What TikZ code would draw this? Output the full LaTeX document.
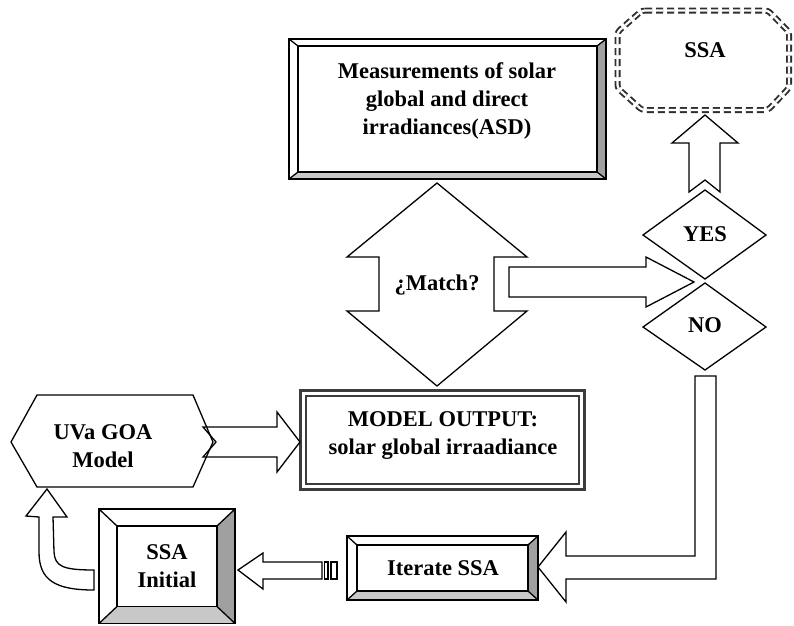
\documentclass[tikz,border=0pt]{standalone}
\usepackage{fontspec}
\setmainfont{Liberation Serif}
\definecolor{bevdark}{HTML}{A0A0A0}
\definecolor{bevlight}{HTML}{C8C8C8}
\definecolor{frame}{HTML}{3C3C3C}
\definecolor{dashframe}{HTML}{2E2E2E}
% bevelled box: x1,y1,x2,y2, side bevel, top/bottom bevel
\newcommand{\bevelbox}[6]{%
  \fill[white] (#1,#2) rectangle (#3,#4);
  \fill[bevdark] (#3,#2) -- (#3,#4) -- ({#3-#5},{#4-#6}) -- ({#3-#5},{#2+#6}) -- cycle;
  \fill[bevlight] (#1,#4) -- (#3,#4) -- ({#3-#5},{#4-#6}) -- ({#1+#5},{#4-#6}) -- cycle;
  \draw[outline] (#1,#2) rectangle (#3,#4);
  \draw[outline] ({#1+#5},{#2+#6}) rectangle ({#3-#5},{#4-#6});
  \draw[outline] (#1,#2) -- ({#1+#5},{#2+#6});
  \draw[outline] (#3,#2) -- ({#3-#5},{#2+#6});
  \draw[outline] (#1,#4) -- ({#1+#5},{#4-#6});
  \draw[outline] (#3,#4) -- ({#3-#5},{#4-#6});
}
\begin{document}
\begin{tikzpicture}[x=1pt,y=-1pt,
  outline/.style={draw=black,line width=1.3pt,line join=miter},
  blockarrow/.style={outline,fill=white},
  label/.style={font=\fontsize{22.5}{28}\selectfont\bfseries,align=center,inner sep=0pt}]
\useasboundingbox (0,0) rectangle (794,625);

% measurement box
\bevelbox{289}{39}{606}{179}{9}{7}
\node[label] (meas) at (447,101) {Measurements of solar\\global and direct\\irradiances(ASD)};

% final result
\draw[draw=dashframe,double=white,double distance=2.2pt,line width=1.9pt,
      dash pattern=on 7pt off 4pt,rounded corners=3pt]
  (642,10.5) -- (768,10.5) -- (789,32) -- (789,88) -- (768,110) -- (642,110)
  -- (617.5,88) -- (617.5,32) -- cycle;
\node[label] (ssa) at (705,50) {SSA};

% comparison arrow (double headed)
\draw[blockarrow] (437,183) -- (527,257) -- (494,257) -- (494,311) -- (527,311)
  -- (437,386) -- (347,311) -- (379,311) -- (379,257) -- (347,257) -- cycle;
\node[label] (match) at (437,285) {¿Match?};

% arrow to decision
\draw[blockarrow] (509,267) -- (646,267) -- (646,257) -- (694,282) -- (646,307)
  -- (646,297) -- (509,297) -- cycle;

% decisions
\draw[blockarrow] (705,190) -- (766,235) -- (705,279) -- (643,235) -- cycle;
\node[label] (yes) at (705,234) {YES};
\draw[blockarrow] (705,283) -- (766,327) -- (705,370) -- (643,327) -- cycle;
\node[label] (no) at (705,325) {NO};

% yes -> SSA (notched arrow)
\draw[blockarrow] (705,115) -- (738,143) -- (720,143) -- (720,192) -- (705,180)
  -- (689,192) -- (689,143) -- (672,143) -- cycle;

% no -> iterate (bent arrow)
\draw[blockarrow] (695,376) -- (716,376) -- (716,579) -- (566,579) -- (566,602)
  -- (538,567) -- (566,532) -- (566,556) -- (695,556) -- cycle;

% model output box (double frame)
\fill[white] (299,389) rectangle (586,491);
\draw[draw=frame,line width=3pt] (300.5,390.5) rectangle (584.5,489.5);
\draw[draw=frame,line width=2pt] (306,396) rectangle (579,484);
\node[label] (out) at (443,436) {MODEL OUTPUT:\\solar global irraadiance};

% model
\draw[outline] (203,427) -- (277,427) -- (277,412) -- (300,442) -- (277,472)
  -- (277,457) -- (203,457) -- (216,442) -- cycle;
\draw[outline] (11,442) -- (37,395) -- (193,395) -- (213,442) -- (193,487)
  -- (37,487) -- cycle;
\node[label] (goa) at (103,446) {UVa GOA\\Model};

% iterate box
\bevelbox{347}{536}{538}{600}{10}{9}
\node[label] (iter) at (443,568) {Iterate SSA};

% iterate -> initial (striped arrow)
\draw[blockarrow] (238,570) -- (263,553) -- (263,562) -- (322,562) -- (322,579)
  -- (263,579) -- (263,589) -- cycle;
\draw[outline,line width=1.1pt] (324.5,562) rectangle (328,579);
\draw[outline,line width=1.1pt] (331,562) rectangle (337,579);

% initial box
\bevelbox{99}{509}{235}{623.5}{18}{17}
\node[label] (init) at (167,566) {SSA\\Initial};

% initial -> model (curved arrow)
\draw[blockarrow] (47,489) -- (67,517) -- (53,517) -- (54,552)
  .. controls (55,566) and (62,570) .. (94,570) -- (94,590)
  .. controls (55,590) and (39,580) .. (39,552) -- (39,517) -- (26,516) -- cycle;
\end{tikzpicture}
\end{document}
